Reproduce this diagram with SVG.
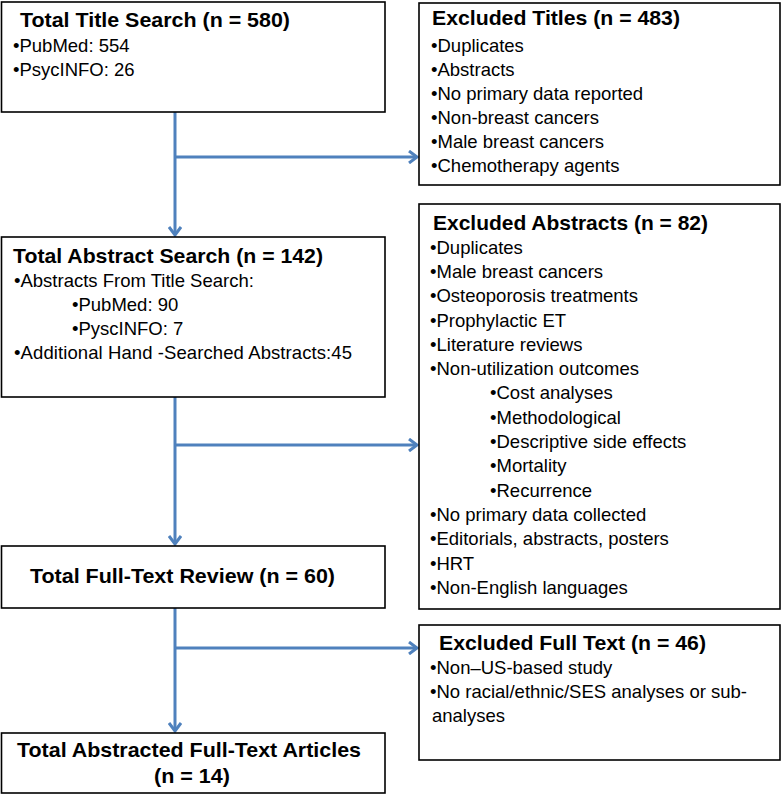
<svg xmlns="http://www.w3.org/2000/svg" width="782" height="795" viewBox="0 0 782 795">
<style>
.box{fill:#fff;stroke:#000;stroke-width:1.6}
.t{font-family:"Liberation Sans",Arial,sans-serif;font-weight:bold;font-size:20.5px;fill:#000}
.b{font-family:"Liberation Sans",Arial,sans-serif;font-size:18.5px;fill:#000}
.c{fill:none;stroke:#4F81BD;stroke-width:3}
</style>
<defs>
<marker id="ah" markerWidth="12" markerHeight="14" refX="9" refY="7" orient="auto" markerUnits="userSpaceOnUse">
<path d="M1,1 L9,7 L1,13" fill="none" stroke="#4F81BD" stroke-width="3"/>
</marker>
</defs>
<rect width="782" height="795" fill="#fff"/>
<g id="connectors">
<line class="c" x1="175" y1="112" x2="175" y2="235" marker-end="url(#ah)"/>
<line class="c" x1="175" y1="157" x2="417" y2="157" marker-end="url(#ah)"/>
<line class="c" x1="175" y1="397" x2="175" y2="544" marker-end="url(#ah)"/>
<line class="c" x1="175" y1="445" x2="417" y2="445" marker-end="url(#ah)"/>
<line class="c" x1="175" y1="608" x2="175" y2="731" marker-end="url(#ah)"/>
<line class="c" x1="175" y1="648" x2="417" y2="648" marker-end="url(#ah)"/>
</g>
<g id="title-search">
<rect class="box" x="1.5" y="2" width="383.5" height="110"/>
<text class="t" x="20" y="27" textLength="270" lengthAdjust="spacingAndGlyphs">Total Title Search (n = 580)</text>
<text class="b" x="13" y="52">•PubMed: 554</text>
<text class="b" x="13" y="76">•PsycINFO: 26</text>
</g>
<g id="excluded-titles">
<rect class="box" x="419" y="3" width="361" height="182"/>
<text class="t" x="432" y="25" textLength="248" lengthAdjust="spacingAndGlyphs">Excluded Titles (n = 483)</text>
<text class="b" x="431" y="52">•Duplicates</text>
<text class="b" x="431" y="76">•Abstracts</text>
<text class="b" x="431" y="100">•No primary data reported</text>
<text class="b" x="431" y="124">•Non-breast cancers</text>
<text class="b" x="431" y="148">•Male breast cancers</text>
<text class="b" x="431" y="172">•Chemotherapy agents</text>
</g>
<g id="abstract-search">
<rect class="box" x="1.5" y="237" width="383.5" height="160"/>
<text class="t" x="13" y="263" textLength="310" lengthAdjust="spacingAndGlyphs">Total Abstract Search (n = 142)</text>
<text class="b" x="14" y="287">•Abstracts From Title Search:</text>
<text class="b" x="72" y="311">•PubMed: 90</text>
<text class="b" x="72" y="335">•PyscINFO: 7</text>
<text class="b" x="14" y="359" textLength="338" lengthAdjust="spacing">•Additional Hand -Searched Abstracts:45</text>
</g>
<g id="excluded-abstracts">
<rect class="box" x="419" y="204" width="361" height="405"/>
<text class="t" x="433" y="230" textLength="275" lengthAdjust="spacingAndGlyphs">Excluded Abstracts (n = 82)</text>
<text class="b" x="430" y="254">•Duplicates</text>
<text class="b" x="430" y="278">•Male breast cancers</text>
<text class="b" x="430" y="302">•Osteoporosis treatments</text>
<text class="b" x="430" y="327">•Prophylactic ET</text>
<text class="b" x="430" y="351">•Literature reviews</text>
<text class="b" x="430" y="375">•Non-utilization outcomes</text>
<text class="b" x="490" y="399">•Cost analyses</text>
<text class="b" x="490" y="424">•Methodological</text>
<text class="b" x="490" y="448">•Descriptive side effects</text>
<text class="b" x="490" y="472">•Mortality</text>
<text class="b" x="490" y="497">•Recurrence</text>
<text class="b" x="430" y="521">•No primary data collected</text>
<text class="b" x="430" y="545">•Editorials, abstracts, posters</text>
<text class="b" x="430" y="570">•HRT</text>
<text class="b" x="430" y="594">•Non-English languages</text>
</g>
<g id="fulltext-review">
<rect class="box" x="1.5" y="546" width="383.5" height="62"/>
<text class="t" x="30" y="583" textLength="305" lengthAdjust="spacingAndGlyphs">Total Full-Text Review (n = 60)</text>
</g>
<g id="excluded-fulltext">
<rect class="box" x="419" y="625" width="361" height="135"/>
<text class="t" x="439" y="650" textLength="267" lengthAdjust="spacingAndGlyphs">Excluded Full Text (n = 46)</text>
<text class="b" x="430" y="674">•Non–US-based study</text>
<text class="b" x="430" y="698">•No racial/ethnic/SES analyses or sub-</text>
<text class="b" x="432" y="722">analyses</text>
</g>
<g id="abstracted-articles">
<rect class="box" x="1.5" y="733" width="383.5" height="60"/>
<text class="t" x="17" y="757" textLength="344" lengthAdjust="spacingAndGlyphs">Total Abstracted Full-Text Articles</text>
<text class="t" x="154" y="783" textLength="76" lengthAdjust="spacingAndGlyphs">(n = 14)</text>
</g>
</svg>
